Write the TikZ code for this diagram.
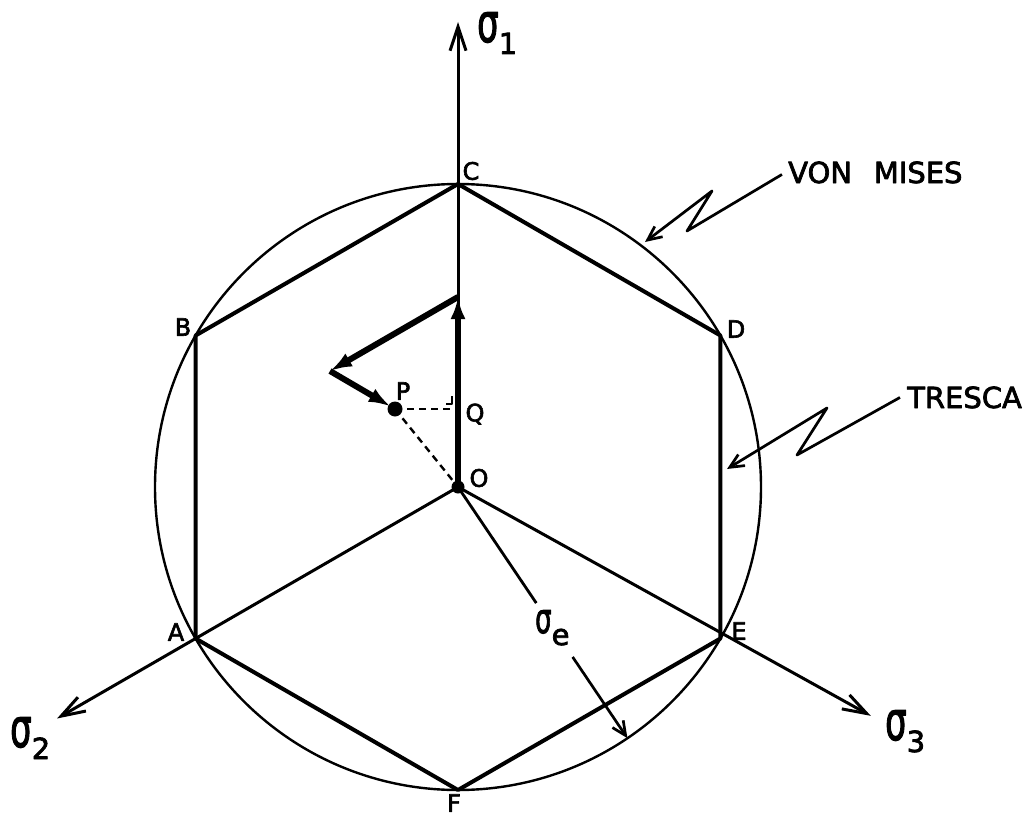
\documentclass[tikz,border=0pt]{standalone}
\usepackage{fontspec}
\setmainfont{DejaVu Sans}[FakeBold=2.5]
\usepackage{graphicx}
\usetikzlibrary{arrows.meta,positioning,calc}
% tall hand-lettered sigma with a lowered index
\newcommand{\sgm}[3]{{\fontsize{#1}{#1}\selectfont\scalebox{1}[#2]{σ}}\raisebox{-12pt}{\fontsize{29}{29}\selectfont #3}}

\begin{document}
\begin{tikzpicture}[x=1pt,y=-1pt,line join=round,
  lbl/.style={inner sep=0pt,font=\fontsize{24}{24}\selectfont},
  note/.style={inner sep=0pt,anchor=base west,font=\fontsize{29}{29}\selectfont},
  sig/.style={inner sep=0pt,anchor=base west},
  axis/.style={line width=3pt,-{Straight Barb[length=24pt,width=16pt]}},
  hexa/.style={line width=4pt},
  ring/.style={line width=2.4pt},
  vec/.style={line width=6pt,-{Latex[length=22pt,width=15pt]}},
  dsh/.style={line width=2.4pt,dash pattern=on 7pt off 5pt},
  leader/.style={line width=2.7pt,-{Straight Barb[length=14pt,width=13pt]}}]
  \useasboundingbox (0,0) rectangle (1031,816);
  % centre and corners of the hexagon
  \coordinate (O) at (458,487);
  \foreach \n/\a in {C/-90,D/-30,E/30,F/90,A/150,B/210}
    \coordinate (\n) at ($(O)+(\a:303)$);
  % von Mises circle, Tresca hexagon
  \draw[ring] (O) circle[radius=303];
  \draw[hexa] (A) -- (B) -- (C) -- (D) -- (E) -- (F) -- cycle;
  % principal stress axes
  \coordinate (s1) at (458,22);
  \coordinate (s2) at ($(O)+(150:463)$);
  \coordinate (s3) at ($(O)+(29:472)$);
  \draw[axis] (O) -- (s1);
  \draw[axis] (O) -- (s2);
  \draw[axis] (O) -- (s3);
  % radius sigma_e
  \coordinate (e1) at ($(O)+(56:140)$);
  \coordinate (e2) at ($(O)+(56:205)$);
  \coordinate (e3) at ($(O)+(56:303)$);
  \draw[line width=2.8pt] (O) -- (e1);
  \draw[leader] (e2) -- (e3);
  % stress path and its projection
  \coordinate (R) at (458,297);
  \coordinate (S) at (330,371);
  \coordinate (P) at (395,409);
  \coordinate (Q) at (458,409);
  \draw[dsh] (P) -- ($(Q)+(-6,0)$);
  \draw[dsh] (P) -- (O);
  \draw[line width=1.8pt] ($(Q)+(-12,-5)$) -- ($(Q)+(-6,-5)$) -- ($(Q)+(-6,-13)$);
  \draw[vec] (O) -- (R);
  \draw[vec] (R) -- (S);
  \draw[vec,shorten >=5pt] (S) -- (P);
  \fill (O) circle[radius=6.5];
  \fill (P) circle[radius=7.5];
  % letters
  \node[lbl] (labC) at (471,171) {C};
  \node[lbl] (labB) at (183,327) {B};
  \node[lbl] (labD) at (736,329) {D};
  \node[lbl] (labA) at (176,632) {A};
  \node[lbl] (labE) at (739,631) {E};
  \node[lbl] (labF) at (454,803) {F};
  \node[lbl] (labO) at (479,478) {O};
  \node[lbl] (labP) at (403,391) {P};
  \node[lbl] (labQ) at (475,414) {Q};
  \node[sig] (sg1) at (477,42) {\sgm{34}{1.6}{1}};
  \node[sig] (sg2) at (10,747) {\sgm{34}{1.6}{2}};
  \node[sig] (sg3) at (885,740) {\sgm{34}{1.6}{3}};
  \node[sig] (sgE) at (535,633) {\sgm{26}{1.6}{e}};
  % criteria names with zigzag leaders
  \node[note] (vm) at (788,183) {VON\hspace{0.75em}MISES};
  \coordinate (vm1) at (687,231);
  \coordinate (vm2) at (712,191);
  \coordinate (vm3) at (645,242);
  \draw[leader] ([xshift=-6pt,yshift=-2pt]vm.west) -- (vm1) -- (vm2) -- (vm3);
  \node[note] (tr) at (907,408) {TRESCA};
  \coordinate (tr1) at (797,455);
  \coordinate (tr2) at (827,408);
  \coordinate (tr3) at (727,469);
  \draw[leader] ([xshift=-7pt]tr.west) -- (tr1) -- (tr2) -- (tr3);
\end{tikzpicture}
\end{document}
